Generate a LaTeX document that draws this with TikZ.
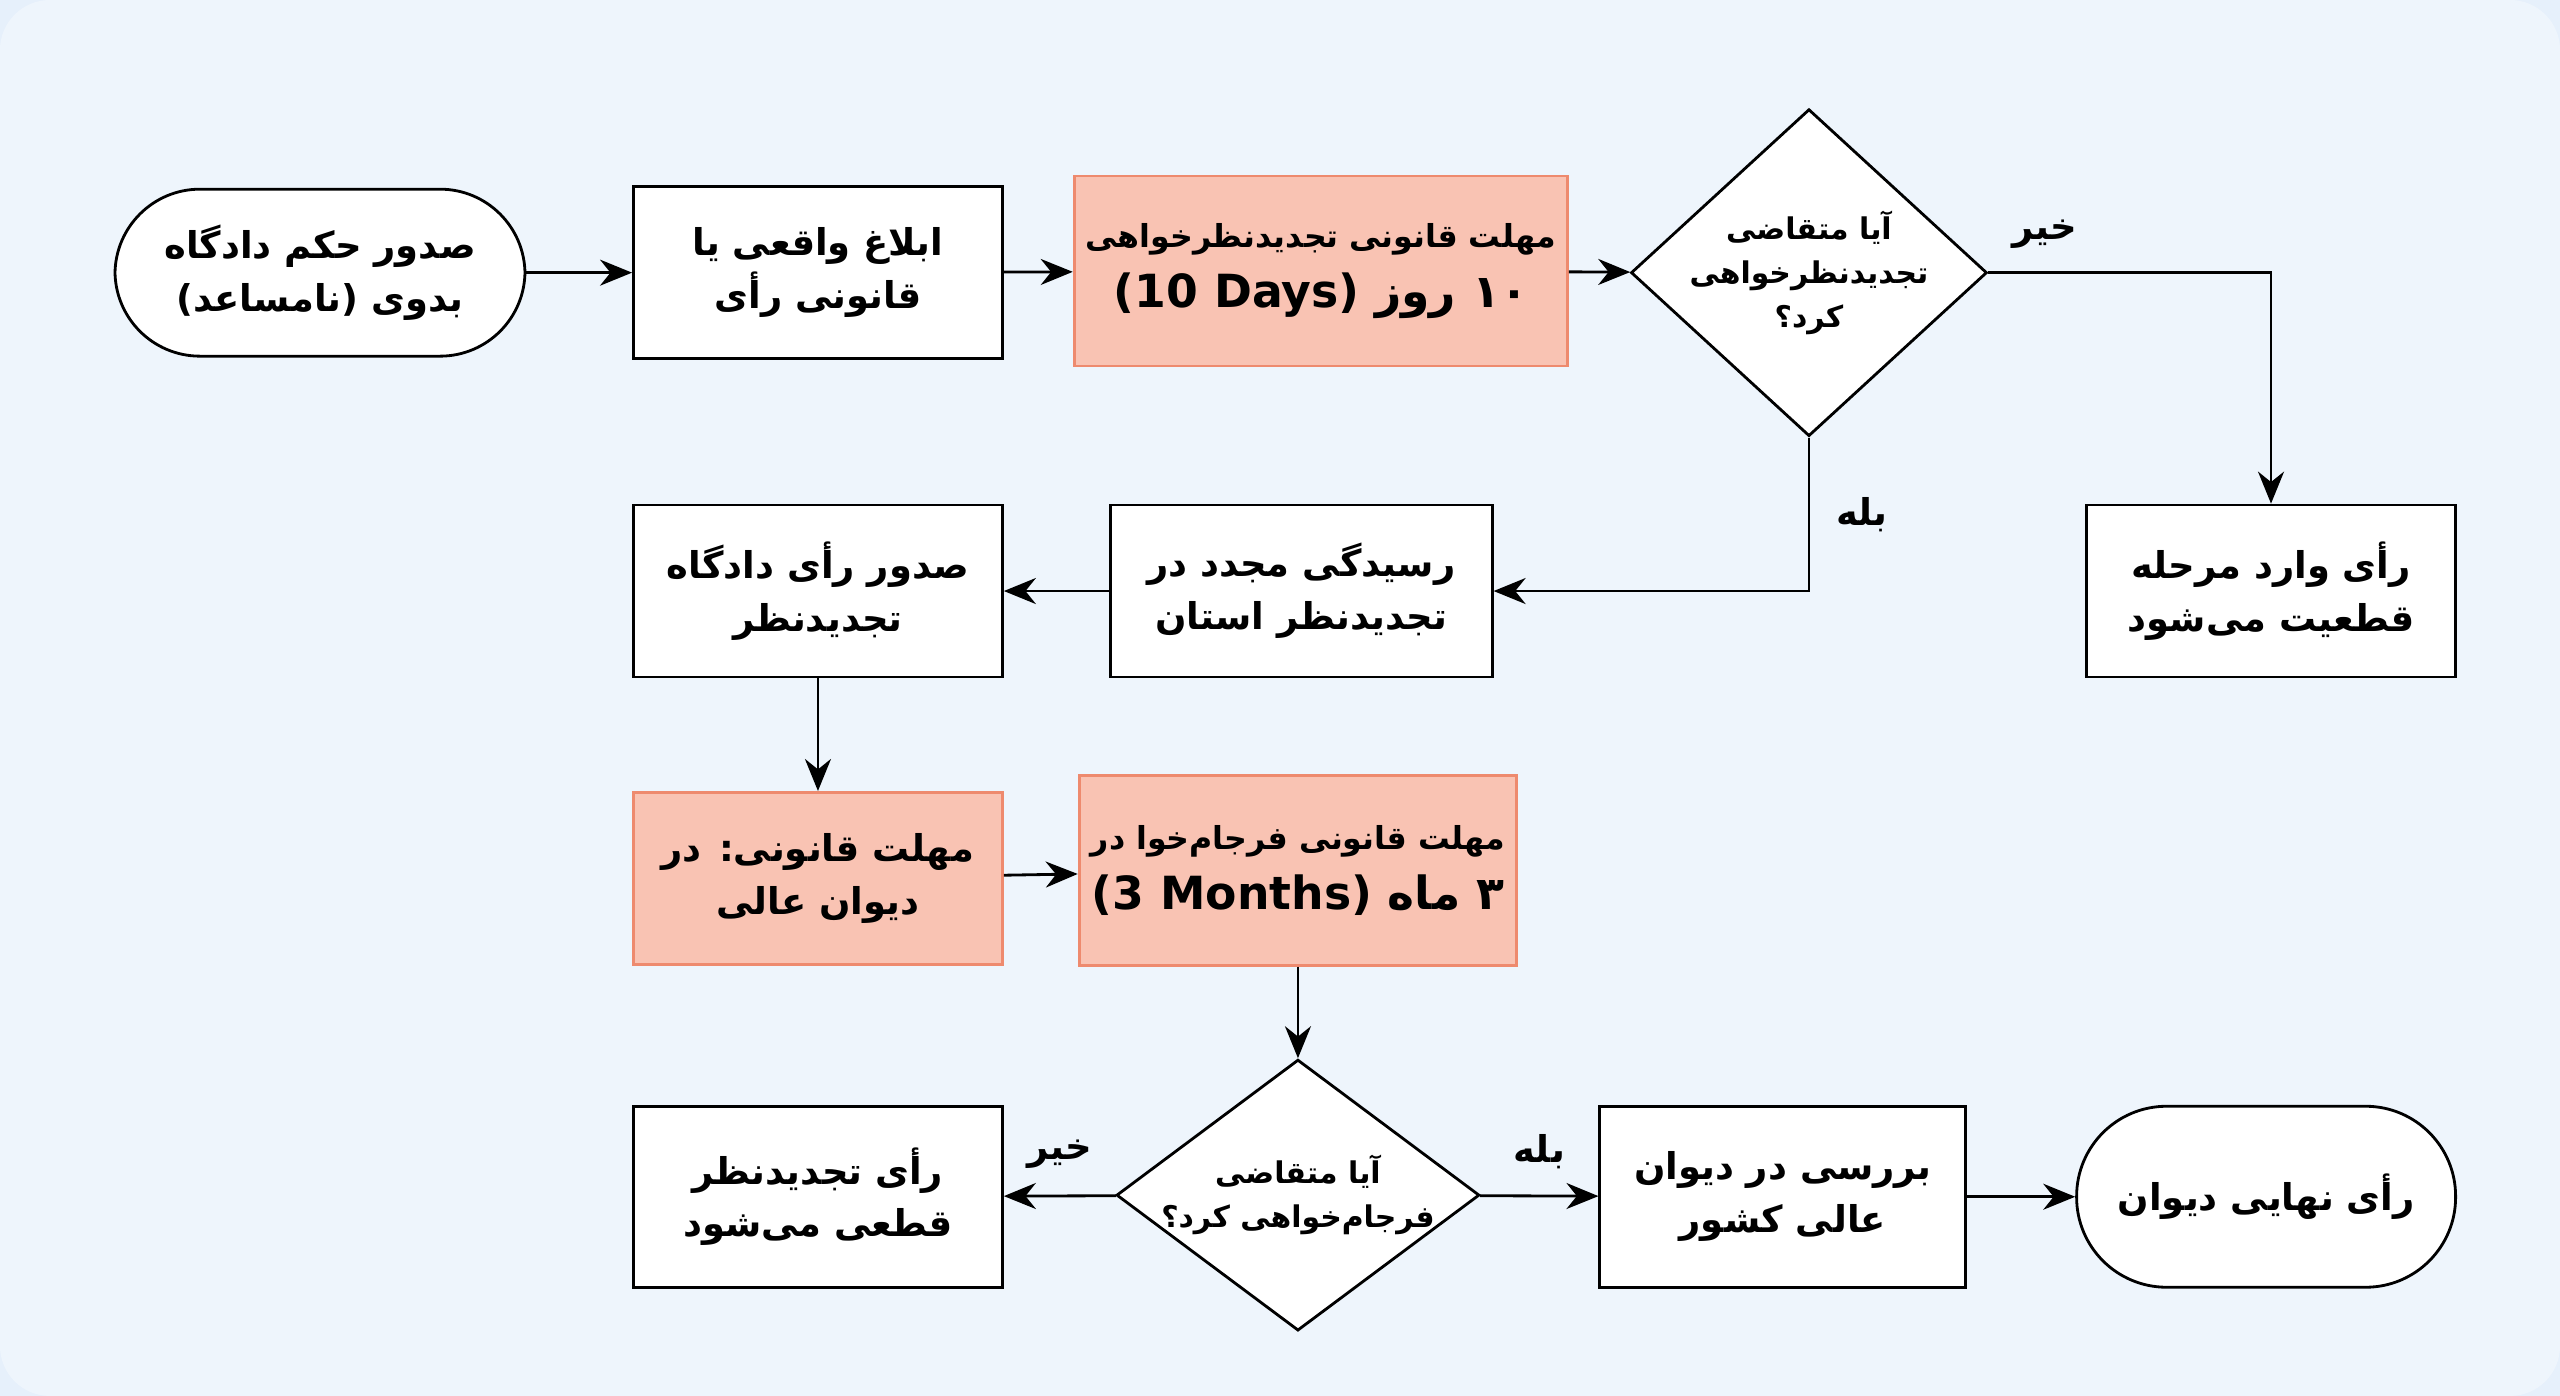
\documentclass[tikz,border=0pt]{standalone}
\usepackage{fontspec}
\usetikzlibrary{shapes.geometric}
\usetikzlibrary{arrows.meta}
\setmainfont{DejaVu Sans}
\newfontfamily\faf[Script=Arabic]{DejaVu Sans}
\TeXXeTstate=1
\newcommand{\fa}[1]{{\faf\bfseries\beginR #1\endR}}
\definecolor{bgblue}{HTML}{E6F0FB}
\definecolor{salfill}{HTML}{F9C3B3}
\definecolor{salline}{HTML}{EE8A6E}
\tikzset{
  box/.style={draw=black,thick,fill=white,minimum width=3.69cm,minimum height=1.72cm,align=center,font=\fontsize{10.5}{15}\selectfont},
  hot/.style={box,draw=salline,fill=salfill,font=\fontsize{9}{14}\selectfont},
  term/.style={box,rounded corners=0.85cm},
  ask/.style={draw=black,thick,fill=white,diamond,inner sep=0pt},
  asktext/.style={align=center,font=\fontsize{8.5}{12.5}\selectfont},
  flow/.style={thick,-{Stealth[length=3.2mm,width=2.6mm]}},
  tag/.style={font=\fontsize{10.5}{12}\selectfont}
}
\begin{document}
\begin{tikzpicture}[x=0.01633cm,y=-0.01633cm]
\useasboundingbox (0,0) rectangle (1568,855);
\fill[bgblue] (0,0) rectangle (1568,855);
\fill[white,opacity=0.35,rounded corners=0.5cm] (0,0) rectangle (1568,855);

\node[term,minimum width=4.1cm,minimum height=1.67cm] (start) at (196,167) {\fa{صدور حکم دادگاه}\\\fa{بدوی (نامساعد)}};
\node[box] (notice) at (501,167) {\fa{ابلاغ واقعی یا}\\\fa{قانونی رأی}};
\node[hot,minimum width=4.69cm,minimum height=1.9cm] (days) at (809,166) {\fa{مهلت قانونی تجدیدنظرخواهی}\\[3pt]{\fontsize{13}{16}\selectfont\bfseries (10 Days) \fa{۱۰ روز}}};
\node[ask,minimum width=3.56cm,minimum height=3.27cm] (q1) at (1108,167) {};
\node[asktext] (q1t) at (q1) {\fa{آیا متقاضی}\\\fa{تجدیدنظرخواهی}\\\fa{کرد؟}};
\node[box] (final1) at (1391,362) {\fa{رأی وارد مرحله}\\\fa{قطعیت می‌شود}};
\node[box,minimum width=3.82cm] (review) at (797,362) {\fa{رسیدگی مجدد در}\\\fa{تجدیدنظر استان}};
\node[box] (appeal) at (501,362) {\fa{صدور رأی دادگاه}\\\fa{تجدیدنظر}};
\node[hot,font=\fontsize{10.5}{15}\selectfont] (court) at (501,538) {\fa{مهلت قانونی: در}\\\fa{دیوان عالی}};
\node[hot,minimum width=4.34cm,minimum height=1.9cm] (months) at (795,533) {\fa{مهلت قانونی فرجام‌خوا در}\\[3pt]{\fontsize{13}{16}\selectfont\bfseries (3 Months) \fa{۳ ماه}}};
\node[ask,minimum width=3.63cm,minimum height=2.71cm] (q2) at (795,732) {};
\node[asktext] (q2t) at (q2) {\fa{آیا متقاضی}\\\fa{فرجام‌خواهی کرد؟}};
\node[box,minimum height=1.81cm] (final2) at (501,733) {\fa{رأی تجدیدنظر}\\\fa{قطعی می‌شود}};
\node[box,minimum width=3.66cm,minimum height=1.81cm] (supreme) at (1092,733) {\fa{بررسی در دیوان}\\\fa{عالی کشور}};
\node[term,minimum width=3.79cm,minimum height=1.81cm,rounded corners=0.9cm] (end) at (1388,733) {\fa{رأی نهایی دیوان}};

% connectors
\draw[flow] (start) -- (notice);
\draw[flow] (notice) -- (days);
\draw[flow] (days) -- (q1);
\draw[flow] (q1.east) -| (final1.north) node[tag,pos=0.1,above=3pt] {\fa{خیر}};
\draw[flow] (q1.south) |- (review.east) node[tag,pos=0.25,right=4pt] {\fa{بله}};
\draw[flow] (review) -- (appeal);
\draw[flow] (appeal) -- (court);
\draw[flow] (court) -- (months);
\draw[flow] (months) -- (q2);
\draw[flow] (q2) -- (final2) node[tag,midway,above=4pt] {\fa{خیر}};
\draw[flow] (q2) -- (supreme) node[tag,midway,above=4pt] {\fa{بله}};
\draw[flow] (supreme) -- (end);
\end{tikzpicture}
\end{document}
